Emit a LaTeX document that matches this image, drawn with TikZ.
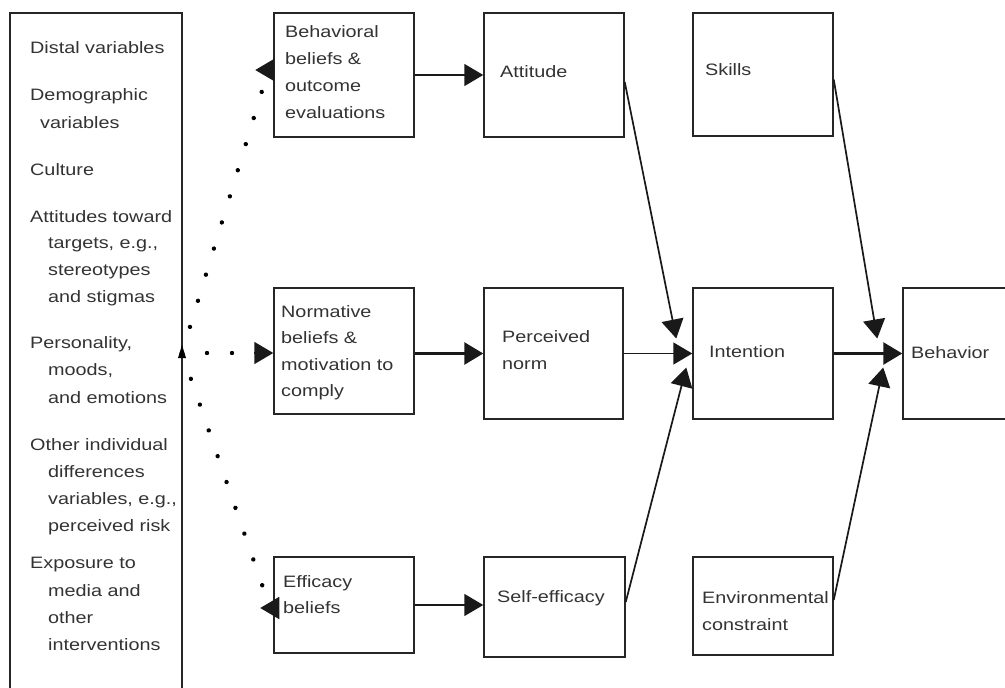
\documentclass[tikz,border=0pt]{standalone}
\usepackage{fontspec}
\setmainfont{Liberation Sans}[FakeStretch=1.2]
\usetikzlibrary{arrows.meta,fit,calc,decorations.markings}
\tikzset{
  bx/.style={draw=black!85, line width=1.5pt, rectangle, inner sep=0pt},
  txt/.style={anchor=base west, inner sep=0pt, text=black!80, font=\fontsize{16.5}{26}\selectfont},
  arr/.style={draw=black!90, line width=1.7pt, -{Triangle[length=19pt,width=22pt]}},
  thickarr/.style={arr, line width=3pt},
  dotted path/.style={postaction={decorate, decoration={markings,
      mark=between positions 0 and 1 step #1 with {\fill[black] (0,0) circle (2.2pt);}}}}
}
\newcommand{\mybox}[5]{\node[bx, fit={(#2,#3) (#4,#5)}] (#1) {};}
\newcommand{\mytxt}[4]{\node[txt] (#1) at (#2,#3) {#4};}
\begin{document}
\begin{tikzpicture}[x=1pt,y=-1pt]
\useasboundingbox (0,0) rectangle (1005,688);
\clip (0,0) rectangle (1005,688);
\fill[white] (0,0) rectangle (1005,688);

% left box
\mybox{left}{10}{13}{182}{710}
\mytxt{l1}{30}{53}{Distal variables}
\mytxt{l2}{30}{100}{Demographic}
\mytxt{l3}{40}{128}{variables}
\mytxt{l4}{30}{175}{Culture}
\mytxt{l5}{30}{222}{Attitudes toward}
\mytxt{l6}{48}{248}{targets, e.g.,}
\mytxt{l7}{48}{275}{stereotypes}
\mytxt{l8}{48}{302}{and stigmas}
\mytxt{l9}{30}{348}{Personality,}
\mytxt{l10}{48}{375}{moods,}
\mytxt{l11}{48}{403}{and emotions}
\mytxt{l12}{30}{450}{Other individual}
\mytxt{l13}{48}{477}{differences}
\mytxt{l14}{48}{504}{variables, e.g.,}
\mytxt{l15}{48}{531}{perceived risk}
\mytxt{l16}{30}{568}{Exposure to}
\mytxt{l17}{48}{596}{media and}
\mytxt{l18}{48}{623}{other}
\mytxt{l19}{48}{650}{interventions}

% boxes
\mybox{beh}{274}{13}{414}{137}
\mybox{att}{484}{13}{624}{137}
\mybox{skl}{693}{13}{833}{136}
\mybox{norm}{274}{288}{414}{414}
\mybox{pn}{484}{288}{623}{419}
\mybox{int}{693}{288}{833}{419}
\mybox{bhv}{903}{288}{1030}{419}
\mybox{eff}{274}{557}{414}{653}
\mybox{se}{484}{557}{625}{657}
\mybox{env}{693}{557}{833}{655}

% texts in boxes
\mytxt{b1}{285}{37}{Behavioral}
\mytxt{b2}{285}{64}{beliefs \&}
\mytxt{b3}{285}{91}{outcome}
\mytxt{b4}{285}{118}{evaluations}
\mytxt{a1}{500}{77}{Attitude}
\mytxt{s1}{705}{75}{Skills}
\mytxt{n1}{281}{317}{Normative}
\mytxt{n2}{281}{343}{beliefs \&}
\mytxt{n3}{281}{370}{motivation to}
\mytxt{n4}{281}{396}{comply}
\mytxt{p1}{502}{342}{Perceived}
\mytxt{p2}{502}{369}{norm}
\mytxt{i1}{709}{357}{Intention}
\mytxt{h1}{911}{358}{Behavior}
\mytxt{e1}{283}{587}{Efficacy}
\mytxt{e2}{283}{613}{beliefs}
\mytxt{f1}{497}{602}{Self-efficacy}
\mytxt{v1}{702}{603}{Environmental}
\mytxt{v2}{702}{630}{constraint}

% solid connectors
\draw[arr] (beh.east) -- (att.west);
\draw[thickarr] (norm.east |- pn.west) -- (pn.west);
\draw[arr] (eff.east) -- (eff.east -| se.west);
\draw[arr] ($(att.east)+(0,7)$) -- ($(int.west)+(-16,-15)$);
\draw[arr] (pn.east) -- (int.west);
\draw[arr] ($(se.east)+(0,-5)$) -- ($(int.west)+(-6,14)$);
\draw[thickarr] (int.east) -- (bhv.west);
\draw[arr] ($(skl.east)+(0,5)$) -- ($(bhv.west)+(-25,-15)$);
\draw[arr] ($(env.east)+(0,-6)$) -- ($(bhv.west)+(-19,14)$);

% dotted connectors from the distal box
\coordinate (O) at (182,353);
\coordinate (up) at (262.3,90);
\coordinate (dn) at (262.3,585.5);
\fill[black] (178,358) -- (182,345) -- (186,358) -- cycle;
\path[dotted path=27.3pt] (O) -- (up);
\path[dotted path=27.3pt] (O) -- (dn);
\path[dotted path=25pt] (O) -- ($(norm.west |- O)+(-12,0)$);
\draw[arr] ($(norm.west |- O)+(-19,0)$) -- (norm.west |- O);
\draw[arr] ($(beh.west)+(1,-5)$) -- ++(-19,0);
\draw[arr] ($(eff.west)+(4,3)$) -- ++(-17,0);
\end{tikzpicture}
\end{document}
